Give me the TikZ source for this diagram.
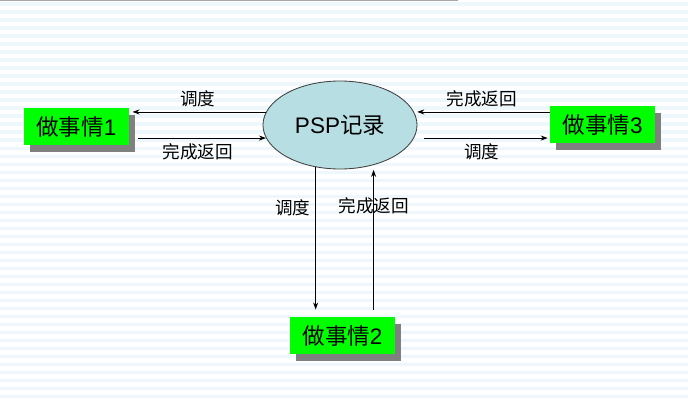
\documentclass[tikz,border=0pt]{standalone}
\usepackage{fontspec}
\setmainfont{Liberation Sans}
\newfontfamily\cjk{Noto Sans CJK SC}
\usetikzlibrary{arrows.meta,positioning,calc,shapes.geometric,shadows}
\definecolor{taskgreen}{RGB}{0,255,0}
\definecolor{pspblue}{RGB}{183,222,226}
\definecolor{stripe}{RGB}{238,247,252}
\newcommand{\task}[1]{{\cjk 做事情}#1}
\newcommand{\lbl}[1]{{\fontsize{12.5}{14}\selectfont\cjk #1}}

\begin{document}
\begin{tikzpicture}[x=0.025cm,y=-0.025cm,>={Stealth[length=5pt,width=3.6pt]},
  link/.style={->,line width=0.6pt},
  taskbox/.style={fill=taskgreen,minimum width=2.625cm,minimum height=0.925cm,inner sep=0pt,
    font=\fontsize{16}{18}\selectfont,
    drop shadow={shadow xshift=0.16cm,shadow yshift=-0.17cm,fill=gray,opacity=1}},
  record/.style={ellipse,draw=black!75,line width=0.6pt,fill=pspblue,minimum width=3.85cm,
    minimum height=2.2cm,inner sep=0pt,font=\fontsize{16}{18}\selectfont}]
  \useasboundingbox (0,0) rectangle (688,400);
  % striped page background
  \fill[white] (0,0) rectangle (688,400);
  \foreach \k in {0,...,49}
    \fill[stripe] (0,\k*8+2.5) rectangle (688,\k*8+6);
  \draw[gray!70,line width=0.6pt] (0,0.5) -- (458,0.5);

  \node[record] (psp) at (340,125) {PSP{\cjk 记录}};
  \node[taskbox] (t1) at (76.5,126.5) {\task1};
  \node[taskbox] (t3) at (602.5,124.5) {\task3};
  \node[taskbox] (t2) at (342.5,335.5) {\task2};

  % left task
  \draw[link,shorten >=0.08cm] (psp.170) -- (psp.170 -| t1.east) node[midway,above] {\lbl{调度}};
  \draw[link,shorten <=0.22cm] (t1.east |- psp.190) -- (psp.190) node[midway,below] {\lbl{完成返回}};
  % right task
  \draw[link,shorten >=0.08cm] (t3.west |- psp.10) -- (psp.10) node[midway,above] {\lbl{完成返回}};
  \draw[link,shorten <=0.24cm,shorten >=0.05cm] (psp.350) -- (psp.350 -| t3.west) node[midway,below] {\lbl{调度}};
  % lower task
  \draw[link,shorten >=0.18cm] (psp.240) -- (psp.240 |- t2.north) node[pos=0.27,left] {\lbl{调度}};
  \draw[link,shorten <=0.18cm,shorten >=0.12cm] (psp.310 |- t2.north) -- (psp.310) node[pos=0.73] {\lbl{完成返回}};
\end{tikzpicture}
\end{document}
